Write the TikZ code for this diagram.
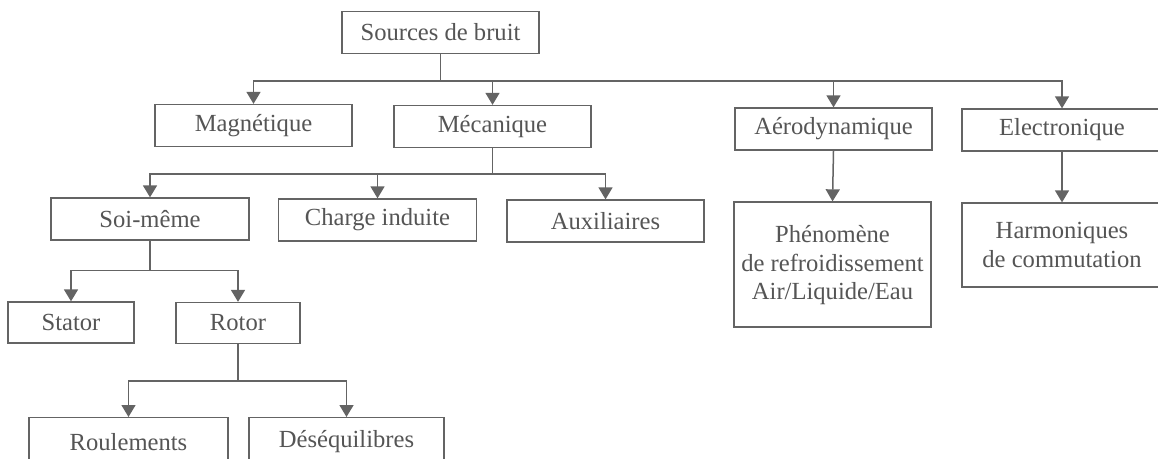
\documentclass[tikz,border=0pt]{standalone}
\usepackage{fontspec}
\setmainfont{Liberation Serif}
\usetikzlibrary{arrows.meta}
\definecolor{linecol}{RGB}{100,100,100}
\definecolor{textcol}{RGB}{85,85,85}
\tikzset{
  box/.style={draw=linecol, line width=1.3pt, rectangle, inner sep=0pt,
    minimum width=197pt, minimum height=42pt, align=center,
    text=textcol, font=\fontsize{24.6}{28.5}\selectfont},
  conn/.style={draw=linecol, line width=1.5pt},
  arr/.style={conn, -{Triangle[width=14pt,length=12pt]}}
}
\begin{document}
\begin{tikzpicture}[x=1pt,y=-1pt]
\useasboundingbox (0,0) rectangle (1158,458);
\clip (0,0) rectangle (1158,458);
\fill[white] (0,0) rectangle (1158,458);
% level 0
\node[box] (src) at (440.5,32.5) {Sources de bruit};
% level 1
\node[box] (mag) at (253.5,125.5) {Magnétique};
\node[box] (mec) at (492.5,126.5) {Mécanique};
\node[box] (aer) at (833.5,129) {Aérodynamique};
\node[box, minimum width=200pt] (ele) at (1062,130) {Electronique};
% level 2
\node[box, minimum width=198pt] (soi) at (150,219) {Soi-même};
\node[box, minimum width=198pt] (cha) at (377.5,220) {Charge induite};
\node[box] (aux) at (605.5,221) {Auxiliaires};
\node[box, minimum height=125pt, text depth=4pt] (phe) at (832.5,264.5) {Phénomène\\de refroidissement\\Air/Liquide/Eau};
\node[box, minimum width=200pt, minimum height=84pt] (har) at (1062,245) {Harmoniques\\de commutation};
% level 3
\node[box, minimum width=126pt, minimum height=41pt] (sta) at (71,322.5) {Stator};
\node[box, minimum width=124pt, minimum height=41pt] (rot) at (238,323) {Rotor};
% level 4
\node[box, minimum width=199pt, minimum height=48pt, anchor=north] (rou) at (128.5,417) {Roulements};
\node[box, minimum width=195pt, minimum height=48pt, anchor=north] (des) at (346.5,417) {Déséquilibres};
% connectors
\draw[conn] (src.south) -- ++(0,-27pt) coordinate (j1);
\draw[arr] (j1) -| (mag.north);
\draw[arr] (j1) -| (mec.north);
\draw[arr] (j1) -| (aer.north);
\draw[arr] (j1) -| (ele.north);
\draw[conn] (mec.south) -- ++(0,-26pt) coordinate (j2);
\draw[arr] (j2) -| (soi.north);
\draw[arr] (j2) -| (cha.north);
\draw[arr] (j2) -| (aux.north);
\draw[conn] (soi.south) -- ++(0,-30pt) coordinate (j3);
\draw[arr] (j3) -| (sta.north);
\draw[arr] (j3) -| (rot.north);
\draw[conn] (rot.south) -- ++(0,-37pt) coordinate (j4);
\draw[arr] (j4) -| (rou.north);
\draw[arr] (j4) -| (des.north);
\draw[arr] (aer.south) -- (phe.north);
\draw[arr] (ele.south) -- (har.north);
\end{tikzpicture}
\end{document}
